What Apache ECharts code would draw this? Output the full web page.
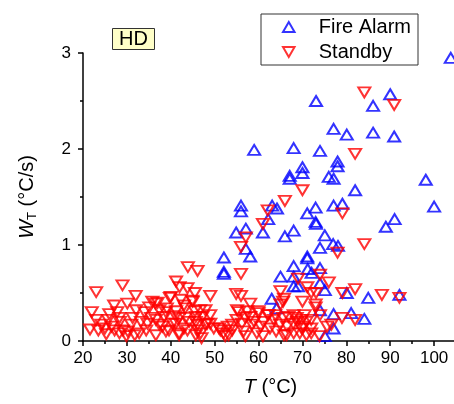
<!DOCTYPE html>
<html>
<head>
<meta charset="utf-8">
<script src="https://cdn.jsdelivr.net/npm/echarts@6/dist/echarts.min.js"></script>
<style>
  html, body { margin: 0; padding: 0; background: #fff; overflow: hidden; }
  /* the plot runs past the right edge of the window, like the cropped original */
  #chart { width: 481px; height: 404px; }
</style>
</head>
<body>
<div id="chart"></div>
<script>
// series names
const seriesNames = ['Fire Alarm', 'Standby'];
const xTicks = [20, 30, 40, 50, 60, 70, 80, 90, 100];
const yTicks = [0, 1, 2, 3];

// Fire Alarm: T (°C) and W_T (°C/s)
const fireT = [103.8, 73.1, 90.0, 86.1, 77.1, 80.1, 86.1, 90.9, 59.0, 68.0,
  74.0, 78.0, 78.0, 70.0, 70.0, 67.1, 67.1, 76.0, 77.1, 98.1,
  82.0, 56.0, 56.0, 63.1, 64.2, 73.0, 77.1, 79.1, 100.0, 71.1,
  73.0, 73.1, 62.2, 61.0, 54.9, 57.1, 68.0, 66.0, 75.1, 89.0,
  91.0, 77.0, 78.1, 74.0, 57.1, 58.1, 52.1, 52.1, 52.1, 71.1,
  71.1, 68.0, 71.2, 72.1, 74.0, 65.0, 68.0, 74.0, 68.0, 69.0,
  75.1, 80.1, 92.1, 63.0, 85.0, 64.1, 74.0, 77.1, 81.1, 84.1,
  77.1, 75.1];
const fireW = [2.95, 2.50, 2.57, 2.45, 2.21, 2.15, 2.17, 2.13, 1.99, 2.01,
  1.98, 1.87, 1.82, 1.81, 1.75, 1.72, 1.69, 1.71, 1.69, 1.68,
  1.57, 1.41, 1.35, 1.41, 1.38, 1.39, 1.41, 1.43, 1.40, 1.33,
  1.24, 1.22, 1.27, 1.13, 1.13, 1.17, 1.15, 1.09, 1.10, 1.19,
  1.27, 1.01, 0.99, 0.97, 0.96, 0.88, 0.87, 0.72, 0.70, 0.88,
  0.86, 0.78, 0.75, 0.71, 0.76, 0.67, 0.67, 0.60, 0.57, 0.57,
  0.53, 0.50, 0.48, 0.44, 0.45, 0.34, 0.32, 0.28, 0.29, 0.23,
  0.13, 0.05];

// Standby
const standbyT = [84.1, 90.9, 82.0, 70.0, 66.0, 62.1, 61.0, 79.1, 84.1, 57.1,
  56.0, 78.0, 43.9, 46.1, 56.0, 74.0, 69.0, 76.0, 41.2, 29.0,
  23.0, 42.0, 43.8, 45.5, 32.0, 40.0, 49.0, 54.9, 56.0, 65.0,
  71.1, 72.0, 73.1, 79.1, 82.0, 88.1, 92.1, 70.0, 65.0, 65.8,
  73.0, 73.0, 74.0, 76.6, 75.6, 79.0, 82.0, 22.0, 72.0, 70.9,
  69.8, 72.0, 70.2, 69.4, 73.9, 72.0,
  27.1, 30.1, 32.1, 27.8, 36.5, 35.1, 37.4, 39.8, 42.3, 44.9,
  41.2, 43.3, 45.5, 39.1, 21.6, 23.5, 25.0, 26.5, 25.3, 28.4,
  29.1, 31.0, 31.8, 33.2, 34.4, 35.5, 37.4, 38.5, 38.9, 40.4,
  41.9, 43.0, 44.2, 45.7, 46.1, 36.6, 29.9, 41.9, 26.0, 34.0,
  35.8, 37.0, 38.9, 41.1, 43.0, 45.0, 47.2, 49.0, 49.0, 51.0,
  52.0, 54.0, 23.0, 24.2, 25.7, 27.2, 28.3, 30.2, 32.8, 34.7,
  36.6, 38.1, 39.6, 41.9, 43.8, 45.7, 47.0, 47.9, 28.3, 31.3,
  41.1, 43.4, 45.7, 47.9,
  46.7, 55.1, 57.4, 60.0, 62.3, 65.6, 66.8, 68.7, 70.5, 46.1,
  48.3, 51.3, 52.4, 54.0, 56.2, 56.6, 58.5, 59.6, 61.1, 62.6,
  64.9, 66.4, 67.9, 69.8, 70.9, 46.8, 65.6, 63.8, 58.1, 53.2,
  49.8, 58.1, 60.0, 62.1, 68.0, 57.0, 61.0, 65.8, 68.0, 55.5,
  57.0, 59.0, 60.5, 63.5, 64.0, 66.5, 68.8, 55.0, 53.0];
const standbyW = [2.59, 2.46, 1.95, 1.57, 1.46, 1.36, 1.22, 1.33, 1.01, 1.08,
  0.98, 0.92, 0.77, 0.73, 0.70, 0.69, 0.65, 0.61, 0.62, 0.58,
  0.51, 0.56, 0.55, 0.50, 0.47, 0.46, 0.47, 0.49, 0.47, 0.52,
  0.56, 0.50, 0.50, 0.50, 0.54, 0.48, 0.45, 0.41, 0.38, 0.44,
  0.38, 0.35, 0.27, 0.17, 0.15, 0.24, 0.22, 0.30, 0.22, 0.20,
  0.22, 0.13, 0.15, 0.08, 0.05, 0.08,
  0.37, 0.39, 0.32, 0.30, 0.39, 0.35, 0.32, 0.45, 0.43, 0.42,
  0.31, 0.34, 0.31, 0.34, 0.12, 0.11, 0.13, 0.15, 0.07, 0.20,
  0.11, 0.17, 0.06, 0.20, 0.11, 0.24, 0.17, 0.25, 0.10, 0.18,
  0.24, 0.13, 0.20, 0.25, 0.11, 0.06, 0.05, 0.06, 0.28, 0.30,
  0.41, 0.40, 0.30, 0.26, 0.37, 0.41, 0.25, 0.27, 0.18, 0.13,
  0.08, 0.11, 0.22, 0.17, 0.22, 0.11, 0.08, 0.10, 0.08, 0.18,
  0.22, 0.15, 0.11, 0.08, 0.11, 0.06, 0.03, 0.17, 0.24, 0.24,
  0.18, 0.24, 0.20, 0.32,
  0.32, 0.32, 0.31, 0.31, 0.27, 0.41, 0.25, 0.24, 0.27, 0.17,
  0.18, 0.11, 0.05, 0.17, 0.18, 0.10, 0.17, 0.08, 0.20, 0.13,
  0.17, 0.06, 0.18, 0.13, 0.06, 0.08, 0.24, 0.27, 0.25, 0.06,
  0.13, 0.39, 0.29, 0.27, 0.27, 0.05, 0.05, 0.06, 0.08, 0.30,
  0.24, 0.20, 0.15, 0.22, 0.10, 0.15, 0.20, 0.22, 0.15];

const FONT = '"Liberation Sans", Arial, sans-serif';
const UP = 'path://M5,0L10,8.66L0,8.66Z';
const DOWN = 'path://M0,0L10,0L5,8.66Z';

function pairs(xs, ys) {
  return xs.map((x, i) => [x, ys[i]]);
}

const myChart = echarts.init(document.getElementById('chart'));
const option = {
  animation: false,
  textStyle: { fontFamily: FONT },
  title: {
    text: 'HD',
    left: 112,
    top: 28,
    padding: [1, 7, 1, 7],
    backgroundColor: '#ffffc8',
    borderColor: '#333',
    borderWidth: 1,
    textStyle: { fontSize: 20, fontWeight: 'normal', color: '#000', fontFamily: FONT }
  },
  legend: {
    orient: 'vertical',
    left: 261,
    top: 14,
    padding: [3, 7, 3, 21],
    itemGap: 5,
    itemWidth: 12,
    itemHeight: 10,
    borderColor: '#333',
    borderWidth: 1,
    textStyle: { fontSize: 20, color: '#000', fontFamily: FONT, padding: [0, 0, 0, 19] },
    data: seriesNames
  },
  grid: {
    left: 83,
    right: 0,
    top: 53,
    bottom: 63
  },
  xAxis: {
    type: 'value',
    min: 20,
    max: 110,
    interval: 10,
    name: '{i|T} (°C)',
    nameLocation: 'middle',
    nameGap: 36,
    nameTextStyle: {
      fontSize: 20, color: '#000', padding: [0, 20, 0, 0],
      rich: { i: { fontSize: 20, fontStyle: 'italic', color: '#000' } }
    },
    axisLine: { lineStyle: { color: '#000', width: 1.5 } },
    axisTick: { length: 5, lineStyle: { color: '#000', width: 1.5 } },
    minorTick: { show: true, splitNumber: 2, length: 3, lineStyle: { color: '#000', width: 1.5 } },
    splitLine: { show: false },
    axisLabel: {
      fontSize: 17, color: '#000', margin: 9,
      formatter: v => (xTicks.includes(v) ? String(v) : '')
    }
  },
  yAxis: {
    type: 'value',
    min: 0,
    max: 3,
    interval: 1,
    name: '{i|W}{s|T} (°C/s)',
    nameLocation: 'middle',
    nameGap: 44,
    nameTextStyle: {
      fontSize: 20, color: '#000',
      rich: {
        i: { fontSize: 20, fontStyle: 'italic', color: '#000' },
        s: { fontSize: 13, color: '#000', padding: [10, 0, 0, 0] }
      }
    },
    axisLine: { show: true, lineStyle: { color: '#000', width: 1.5 } },
    axisTick: { show: true, length: 5, lineStyle: { color: '#000', width: 1.5 } },
    minorTick: { show: true, splitNumber: 2, length: 3, lineStyle: { color: '#000', width: 1.5 } },
    splitLine: { show: false },
    axisLabel: {
      fontSize: 17, color: '#000', margin: 12,
      formatter: v => (yTicks.includes(v) ? String(v) : '')
    }
  },
  series: [
    {
      name: seriesNames[0],
      type: 'scatter',
      symbol: UP,
      symbolSize: [12, 10],
      itemStyle: { color: 'rgba(0,0,0,0)', borderColor: '#0000ff', borderWidth: 2 },
      data: pairs(fireT, fireW)
    },
    {
      name: seriesNames[1],
      type: 'scatter',
      symbol: DOWN,
      symbolSize: [12, 10],
      itemStyle: { color: 'rgba(0,0,0,0)', borderColor: '#ff0000', borderWidth: 2 },
      data: pairs(standbyT, standbyW)
    }
  ]
};
myChart.setOption(option);
</script>
</body>
</html>
